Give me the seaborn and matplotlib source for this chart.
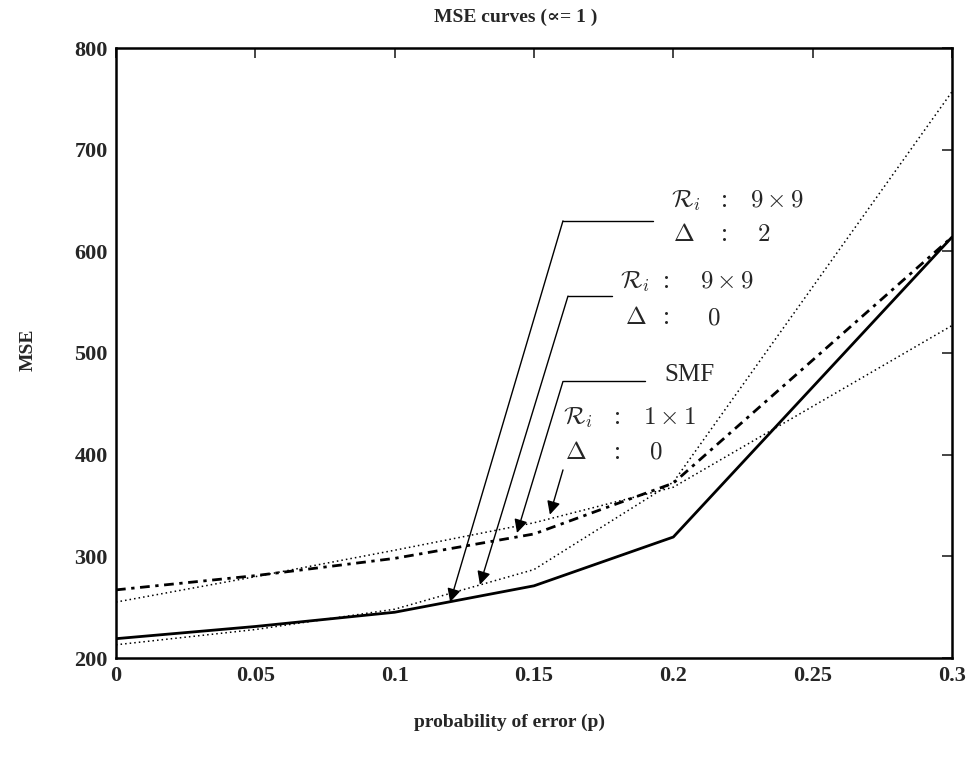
import matplotlib
matplotlib.use("Agg")
import matplotlib.pyplot as plt
import seaborn as sns
import pandas as pd

# ---- data ----
p_values = [0.0, 0.05, 0.10, 0.15, 0.20, 0.30]
mse_r9_d2 = [219, 231, 245, 271, 319, 614]      # solid
mse_r9_d0 = [213, 228, 248, 287, 373, 757]      # steep dotted
mse_smf = [267, 281, 298, 322, 372, 614]        # dash-dot
mse_r1_d0 = [255, 280, 306, 333, 368, 527]      # shallow dotted

x_ticks = [0, 0.05, 0.1, 0.15, 0.2, 0.25, 0.3]
x_tick_labels = ["0", "0.05", "0.1", "0.15", "0.2", "0.25", "0.3"]
y_ticks = [200, 300, 400, 500, 600, 700, 800]

sns.set_theme(style="white")
plt.rcParams["font.family"] = ["Liberation Serif", "DejaVu Serif"]
plt.rcParams["mathtext.fontset"] = "cm"

fig = plt.figure(figsize=(9.68, 7.61), dpi=100)
ax = fig.add_axes([116 / 968, 1 - 658 / 761, (952 - 116) / 968, (658 - 48) / 761])

series = [
    ("r9d2", mse_r9_d2, dict(lw=2.0, linestyle="-")),
    ("r9d0", mse_r9_d0, dict(lw=1.1, linestyle=(0, (1, 2)))),
    ("smf", mse_smf, dict(lw=2.0, linestyle=(0, (3.5, 2, 1.2, 2)))),
    ("r1d0", mse_r1_d0, dict(lw=1.1, linestyle=(0, (1, 2)))),
]
for name, vals, st in series:
    df = pd.DataFrame({"p": p_values, "mse": vals})
    sns.lineplot(data=df, x="p", y="mse", ax=ax, color="black",
                 linewidth=st["lw"], linestyle=st["linestyle"], legend=False)

ax.set_xlim(0, 0.3)
ax.set_ylim(200, 800)
ax.set_xticks(x_ticks)
ax.set_xticklabels(x_tick_labels)
ax.set_yticks(y_ticks)
ax.tick_params(direction="in", length=7, width=1.2, top=True, right=True,
               labelsize=16, pad=6)
for lab in ax.get_xticklabels() + ax.get_yticklabels():
    lab.set_fontweight("bold")
for s in ax.spines.values():
    s.set_linewidth(1.8)
    s.set_color("black")
ax.set_xlabel("")
ax.set_ylabel("")

fig.text(516 / 968, 1 - 17 / 761, r"MSE curves (∝= 1 )", ha="center", va="center",
         fontsize=14, fontweight="bold")
fig.text(510 / 968, 1 - 722 / 761, "probability of error (p)", ha="center",
         va="center", fontsize=14, fontweight="bold")
fig.text(28 / 968, 1 - 350 / 761, "MSE", ha="center", va="center",
         rotation=90, fontsize=14, fontweight="bold")

# ---- annotations ----
fs = 18
def row(xl, xc, xv, y, label, value):
    ax.text(xl, y, label, ha="left", va="center", fontsize=fs)
    ax.text(xc, y, ":", ha="center", va="center", fontsize=fs)
    ax.text(xv, y, value, ha="left", va="center", fontsize=fs)

row(0.1990, 0.2185, 0.2275, 650, r"$\mathcal{R}_i$", r"$9\times9$")
row(0.1999, 0.2185, 0.2300, 616, r"$\Delta$", r"$2$")
row(0.1810, 0.1975, 0.2096, 570, r"$\mathcal{R}_i$", r"$9\times9$")
row(0.1825, 0.1975, 0.2121, 534, r"$\Delta$", r"$0$")
ax.text(0.1967, 478, "SMF", ha="left", va="center", fontsize=fs)
row(0.1605, 0.1801, 0.1891, 436, r"$\mathcal{R}_i$", r"$1\times1$")
row(0.1612, 0.1801, 0.1913, 402, r"$\Delta$", r"$0$")

arrow_kw = dict(arrowstyle="-|>", color="black", lw=1.0, mutation_scale=20,
                shrinkA=0, shrinkB=0)
# arrow 1
ax.plot([0.1927, 0.1604], [630, 630], color="black", lw=1.0)
ax.annotate("", xy=(0.1199, 255), xytext=(0.1604, 630), arrowprops=arrow_kw)
# arrow 2
ax.plot([0.1780, 0.1622], [556, 556], color="black", lw=1.0)
ax.annotate("", xy=(0.1306, 272), xytext=(0.1622, 556), arrowprops=arrow_kw)
# arrow 3
ax.plot([0.1898, 0.1604], [472, 472], color="black", lw=1.0)
ax.annotate("", xy=(0.1439, 323), xytext=(0.1604, 472), arrowprops=arrow_kw)
# arrow 4
ax.annotate("", xy=(0.1557, 341), xytext=(0.1604, 385), arrowprops=arrow_kw)

fig.savefig("out.png", dpi=100)
